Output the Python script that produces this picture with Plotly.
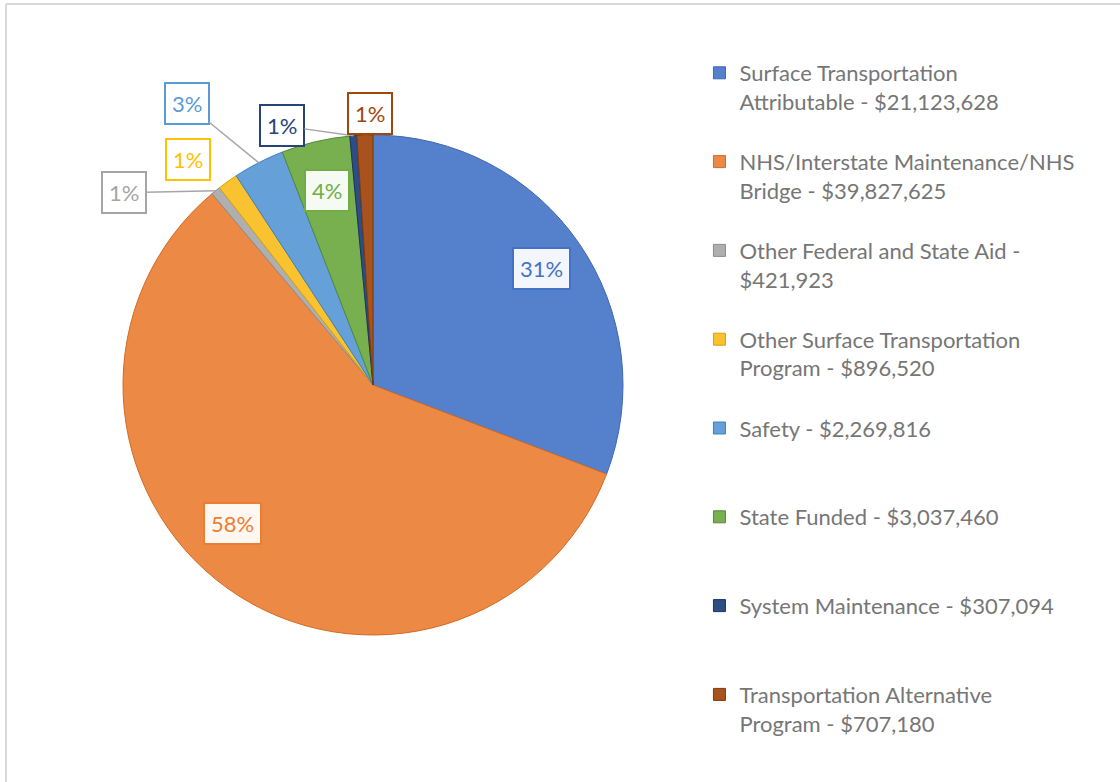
import math
import plotly.graph_objects as go

# ---- data ----
categories = [
    "Surface Transportation<br>Attributable - $21,123,628",
    "NHS/Interstate Maintenance/NHS<br>Bridge - $39,827,625",
    "Other Federal and State Aid -<br>$421,923",
    "Other Surface Transportation<br>Program - $896,520",
    "Safety - $2,269,816",
    "State Funded - $3,037,460",
    "System Maintenance - $307,094",
    "Transportation Alternative<br>Program - $707,180",
]
values = [21123628, 39827625, 421923, 896520, 2269816, 3037460, 307094, 707180]
slice_colors = ["#5580CC", "#EC8A45", "#AFAFAF", "#F8C230", "#66A0D8", "#78B050", "#2D4D85", "#A8531E"]
edge_colors = ["#3F68B0", "#D26A24", "#8C8C8C", "#D9A400", "#3F80BF", "#548A33", "#1B3360", "#7F3A0D"]
label_colors = ["#4472C4", "#ED7D31", "#A5A5A5", "#FFC000", "#5B9BD5", "#70AD47", "#264478", "#9E480E"]

# ---- layout geometry (pixels) ----
W, H = 1120, 782
CX, CY, R = 373, 385, 250

# pad legend labels to three lines so entries are evenly spaced
legend_labels = []
for c in categories:
    n = c.count("<br>") + 1
    legend_labels.append(c + "<br> " * (3 - n))

fig = go.Figure(go.Pie(
    labels=legend_labels,
    values=values,
    sort=False,
    direction="clockwise",
    rotation=0,
    textinfo="none",
    hoverinfo="label+percent",
    marker=dict(colors=slice_colors, line=dict(color=edge_colors, width=1)),
    domain=dict(x=[(CX - R) / W, (CX + R) / W], y=[(H - CY - R) / H, (H - CY + R) / H]),
))

# label placement: (kind, radius fraction, x offset, y offset)
placement = [
    ("in", 0.82, 0, 0),
    ("in", 0.80, -25, 25),
    ("arrow", 1.0, -92, 2),
    ("shift", 1.0, -40, 22),
    ("arrow", 1.0, -72, -59),
    ("in", 0.80, 0, 0),
    ("arrow", 1.0, -71, -10),
    ("shift", 1.0, 5, 22),
]

total = sum(values)
annotations = []
cum = 0
for i, v in enumerate(values):
    frac = v / total
    mid = cum + frac / 2
    cum += frac
    theta = 2 * math.pi * mid
    kind, rf, ox, oy = placement[i]
    px = CX + R * rf * math.sin(theta)
    py = CY - R * rf * math.cos(theta)
    txt = f"{max(1, round(frac * 100)):d}%"
    base = dict(
        text=txt, xref="paper", yref="paper",
        x=px / W, y=1 - py / H,
        xanchor="center", yanchor="middle",
        font=dict(family="Lato, sans-serif", size=22, color=label_colors[i]),
        bgcolor="rgba(255,255,255,0.93)", bordercolor=label_colors[i],
        borderwidth=2, borderpad=6,
    )
    if kind in ("in", "shift"):
        base.update(showarrow=False, xshift=ox, yshift=oy)
    else:
        base.update(showarrow=True, arrowhead=0, arrowwidth=1.5, arrowcolor="#A6A6A6",
                    ax=ox, ay=oy, standoff=0, startstandoff=0)
    annotations.append(base)

fig.update_layout(
    width=W, height=H,
    margin=dict(l=0, r=0, t=0, b=0),
    paper_bgcolor="white",
    plot_bgcolor="white",
    font=dict(family="Lato, sans-serif", color="#767676"),
    showlegend=True,
    legend=dict(
        x=0.6245, y=1 - 52 / H, xanchor="left", yanchor="top",
        font=dict(family="Lato, sans-serif", size=22, color="#767676"),
        valign="top", traceorder="normal",
    ),
    annotations=annotations,
    shapes=[
        dict(type="line", xref="paper", yref="paper", x0=6 / W, x1=1, y0=1 - 4 / H, y1=1 - 4 / H,
             line=dict(color="#D9D9D9", width=2)),
        dict(type="line", xref="paper", yref="paper", x0=6 / W, x1=6 / W, y0=0, y1=1 - 4 / H,
             line=dict(color="#D9D9D9", width=2)),
    ],
)

fig.write_html("out.html")
